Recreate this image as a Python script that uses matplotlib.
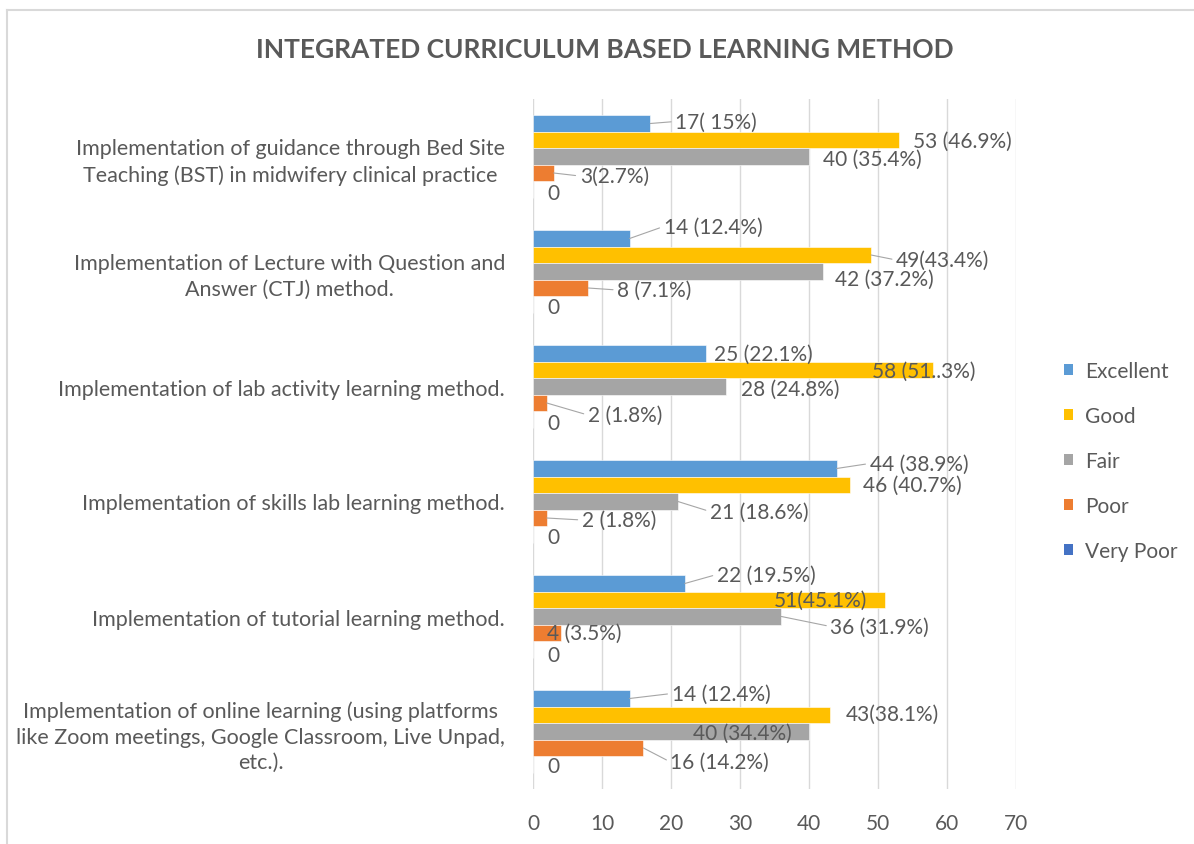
import matplotlib
matplotlib.use("Agg")
import matplotlib.pyplot as plt
from matplotlib.patches import Patch
from matplotlib.lines import Line2D

plt.rcParams['font.family'] = ['Lato', 'DejaVu Sans']

# ---------------- data ----------------
categories = [
    "Implementation of guidance through Bed Site\nTeaching (BST) in midwifery clinical practice",
    "Implementation of Lecture with Question and\nAnswer (CTJ) method.",
    "Implementation of lab activity learning method.",
    "Implementation of skills lab learning method.",
    "Implementation of tutorial learning method.",
    "Implementation of online learning (using platforms\nlike Zoom meetings, Google Classroom, Live Unpad,\netc.).",
]
series_names = ["Excellent", "Good", "Fair", "Poor", "Very Poor"]

excellent = [17, 14, 25, 44, 22, 14]
good = [53, 49, 58, 46, 51, 43]
fair = [40, 42, 28, 21, 36, 40]
poor = [3, 8, 2, 2, 4, 16]
very_poor = [0, 0, 0, 0, 0, 0]

excellent_labels = ["17( 15%)", "14 (12.4%)", "25 (22.1%)", "44 (38.9%)", "22 (19.5%)", "14 (12.4%)"]
good_labels = ["53 (46.9%)", "49(43.4%)", "58 (51..3%)", "46 (40.7%)", "51(45.1%)", "43(38.1%)"]
fair_labels = ["40 (35.4%)", "42 (37.2%)", "28 (24.8%)", "21 (18.6%)", "36 (31.9%)", "40 (34.4%)"]
poor_labels = ["3(2.7%)", "8 (7.1%)", "2 (1.8%)", "2 (1.8%)", "4 (3.5%)", "16 (14.2%)"]
very_poor_labels = ["0", "0", "0", "0", "0", "0"]

x_ticks = [0, 10, 20, 30, 40, 50, 60, 70]

# ---------------- styling / label layout ----------------
colors = ["#5B9BD5", "#FFC000", "#A5A5A5", "#ED7D31", "#4472C4"]
text_color = "#595959"
grid_color = "#D9D9D9"
leader_color = "#A6A6A6"
fs = 15

# label offsets from bar end, in pixels (dx right, dy down), and leader-line flags
label_dx = [
    [25, 34, 8, 33, 32, 42],
    [14, 25, -61, 13, -111, 16],
    [14, 12, 15, 32, 49, -116],
    [26, 29, 41, 35, -14, 27],
    [14, 14, 14, 14, 14, 14],
]
label_dy = [
    [-2, -12, 0, -5, -9, -5],
    [1, 5, 1, 0, 0, -1],
    [2, 7, 2, 10, 10, 1],
    [3, 2, 12, 2, 0, 14],
    [3, 2, 3, 2, 5, 1],
]
leaders = [
    [1, 1, 0, 1, 1, 1],
    [0, 1, 0, 0, 0, 0],
    [0, 0, 0, 1, 1, 0],
    [1, 1, 1, 1, 0, 1],
    [0, 0, 0, 0, 0, 0],
]

values = [excellent, good, fair, poor, very_poor]
labels = [excellent_labels, good_labels, fair_labels, poor_labels, very_poor_labels]

W, H = 1194, 845
fig = plt.figure(figsize=(W / 100, H / 100), dpi=100)
fig.patch.set_facecolor("white")

ax = fig.add_axes([533 / W, 1 - 790 / H, (1016 - 533) / W, 690 / H])

n = len(categories)
positions = [n - 1 - i for i in range(n)]
bar_h = 0.1435

for k, (name, vals) in enumerate(zip(series_names, values)):
    ys = [p + (2 - k) * bar_h for p in positions]
    ax.barh(ys, vals, height=bar_h, color=colors[k], label=name, zorder=2,
            edgecolor="white", linewidth=0.4)
    for j in range(n):
        ap = None
        if leaders[k][j]:
            ap = dict(arrowstyle="-", color=leader_color, lw=0.8,
                      shrinkA=1, shrinkB=0, relpos=(0, 0.5))
        ax.annotate(labels[k][j], xy=(vals[j], ys[j]),
                    xytext=(label_dx[k][j], -label_dy[k][j]),
                    textcoords="offset pixels", ha="left", va="center",
                    fontsize=fs, color=text_color, arrowprops=ap, zorder=4,
                    annotation_clip=False)

ax.set_xlim(0, 70)
ax.set_ylim(-0.5, n - 0.5)
ax.set_xticks(x_ticks)
ax.set_xticklabels([str(t) for t in x_ticks])
ax.set_yticks(positions)
ax.set_yticklabels(categories, multialignment="center", linespacing=1.35)
ax.tick_params(axis="both", length=0, colors=text_color, labelsize=fs)
ax.tick_params(axis="y", labelsize=15.5)
ax.tick_params(axis="x", pad=17)
ax.tick_params(axis="y", pad=20)
ax.grid(axis="x", color=grid_color, lw=1.0, zorder=0)
ax.set_axisbelow(True)
for s in ax.spines.values():
    s.set_visible(False)

# legend
handles = [Patch(facecolor=c, edgecolor="none") for c in colors]
fig.legend(handles, series_names, loc="upper left",
           bbox_to_anchor=(1064 / W, 1 - 362 / H), frameon=False,
           fontsize=fs, labelcolor=text_color, handlelength=0.45,
           handleheight=0.45, handletextpad=0.55, labelspacing=1.2,
           borderaxespad=0, borderpad=0)

# title
fig.text(605 / W, 1 - 50 / H, "INTEGRATED CURRICULUM BASED LEARNING METHOD",
         ha="center", va="center", fontsize=19, fontweight="bold", color=text_color)

# chart border (top & left visible)
fig.add_artist(Line2D([7 / W, 7 / W], [0, 1 - 11 / H], transform=fig.transFigure,
                      color=grid_color, lw=1.5))
fig.add_artist(Line2D([7 / W, 1], [1 - 11 / H, 1 - 11 / H], transform=fig.transFigure,
                      color=grid_color, lw=1.5))

fig.savefig("out.png", dpi=100, facecolor="white")
